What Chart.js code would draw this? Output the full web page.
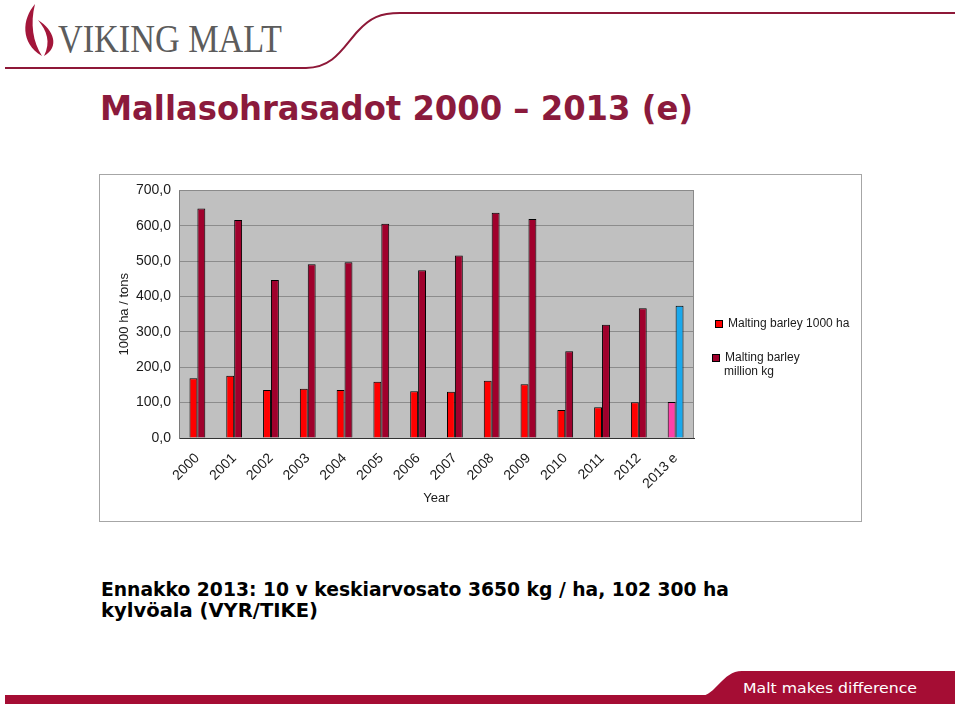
<!DOCTYPE html>
<html>
<head>
<meta charset="utf-8">
<script src="https://cdn.jsdelivr.net/npm/chart.js@4/dist/chart.umd.min.js"></script>
<style>
  html, body { margin: 0; padding: 0; background: #fff; }
  body { width: 960px; height: 706px; position: relative; overflow: hidden; }
  #deco { position: absolute; left: 0; top: 0; }
  #chartBox { position: absolute; left: 99px; top: 174px; width: 763px; height: 348px; }
  #chartFrame { position: absolute; left: 99px; top: 174px; width: 761px; height: 346px;
                border: 1px solid #a6a6a6; pointer-events: none; }
</style>
</head>
<body>
<svg id="deco" width="960" height="706" xmlns="http://www.w3.org/2000/svg">
  <!-- logo -->
  <path d="M35,4 C22,19 20,43 42,56 C33,42 30,24 35,4 Z" fill="#a3163a"/>
  <path d="M38,20 C54,30 60,47 44,56 C51,42 47,31 38,20 Z" fill="#a3163a"/>
  <text x="58" y="52" font-family="Liberation Serif, serif" font-size="41" fill="#5c5c5c"
        textLength="224" lengthAdjust="spacingAndGlyphs">VIKING MALT</text>
  <path d="M5,68 L306,68 C334,68 344,46 358,31 C370,18 380,13 400,13 L955,13"
        fill="none" stroke="#8e1838" stroke-width="2"/>
  <!-- title -->
  <text x="100" y="120" font-family="DejaVu Sans, sans-serif" font-weight="bold" font-size="34"
        fill="#8b1a3c" textLength="593" lengthAdjust="spacingAndGlyphs">Mallasohrasadot 2000 – 2013 (e)</text>
  <!-- caption -->
  <text x="101" y="596" font-family="DejaVu Sans, sans-serif" font-weight="bold" font-size="19"
        fill="#000" textLength="628" lengthAdjust="spacingAndGlyphs">Ennakko 2013: 10 v keskiarvosato 3650 kg / ha, 102 300 ha</text>
  <text x="101" y="617" font-family="DejaVu Sans, sans-serif" font-weight="bold" font-size="19"
        fill="#000" textLength="217" lengthAdjust="spacingAndGlyphs">kylvöala (VYR/TIKE)</text>
  <!-- footer -->
  <rect x="5" y="695" width="950" height="9" fill="#a50d34"/>
  <path d="M700,696 C716,696 722,671 742,671 L955,671 L955,704 L700,704 Z" fill="#a50d34"/>
  <text x="743" y="693" font-family="DejaVu Sans, sans-serif" font-size="14" fill="#fff"
        textLength="174" lengthAdjust="spacingAndGlyphs">Malt makes difference</text>
</svg>

<canvas id="chartBox" width="763" height="348"></canvas>
<div id="chartFrame"></div>

<script>
// --- data ---
const years = ['2000', '2001', '2002', '2003', '2004', '2005', '2006',
               '2007', '2008', '2009', '2010', '2011', '2012', '2013 e'];
// Malting barley area, 1000 ha
const areaHa = [169, 176, 136, 139, 136, 159, 132, 131, 162, 152, 79, 87, 101, 102];
// Malting barley crop, million kg
const cropKg = [649, 616, 447, 491, 497, 606, 474, 516, 637, 619, 245, 320, 367, 374];
const seriesNames = ['Malting barley 1000 ha', ['Malting barley', 'million kg']];

// colours: last year (estimate) is highlighted
const RED = '#ff0000', PINK = '#ff40a8', DARK = '#a0002c', BLUE = '#1aa8ec';
const areaColors = years.map((y, i) => (i === years.length - 1 ? PINK : RED));
const cropColors = years.map((y, i) => (i === years.length - 1 ? BLUE : DARK));

Chart.defaults.font.family = '"Liberation Sans", Arial, sans-serif';
Chart.defaults.color = '#1a1a1a';

// grey plot background + frame at top/right, Excel style
const plotBg = {
  id: 'plotBg',
  beforeDraw(chart) {
    const { ctx, chartArea: a } = chart;
    ctx.save();
    ctx.fillStyle = '#c0c0c0';
    ctx.fillRect(a.left, a.top, a.right - a.left, a.bottom - a.top);
    ctx.restore();
  },
  afterDatasetsDraw(chart) {
    const { ctx, chartArea: a } = chart;
    ctx.save();
    ctx.strokeStyle = '#8a8a8a';
    ctx.lineWidth = 1;
    ctx.beginPath();
    ctx.moveTo(Math.round(a.left) + 0.5, Math.round(a.top) + 0.5);
    ctx.lineTo(Math.round(a.right) - 0.5, Math.round(a.top) + 0.5);
    ctx.lineTo(Math.round(a.right) - 0.5, Math.round(a.bottom));
    ctx.stroke();
    ctx.restore();
  },
};

// legend with wrapped second label, drawn on the right
const sideLegend = {
  id: 'sideLegend',
  afterDraw(chart) {
    const { ctx } = chart;
    const rows = [
      { y: 150, x: 629, color: chart.data.datasets[0].backgroundColor[0], lines: [].concat(seriesNames[0]) },
      { y: 184, x: 626, color: chart.data.datasets[1].backgroundColor[0], lines: [].concat(seriesNames[1]) },
    ];
    ctx.save();
    ctx.font = '12px "Liberation Sans", Arial, sans-serif';
    ctx.textBaseline = 'middle';
    rows.forEach((r) => {
      ctx.fillStyle = r.color;
      ctx.fillRect(r.x - 12, r.y - 3, 6, 6);
      ctx.strokeStyle = '#000';
      ctx.strokeRect(r.x - 12.5, r.y - 3.5, 7, 7);
      ctx.fillStyle = '#1a1a1a';
      r.lines.forEach((t, k) => ctx.fillText(t, r.x - (k ? 1 : 0), r.y + k * 14));
    });
    ctx.restore();
  },
};

new Chart(document.getElementById('chartBox'), {
  type: 'bar',
  data: {
    labels: years,
    datasets: [
      { label: 'Malting barley 1000 ha', data: areaHa, backgroundColor: areaColors,
        borderColor: '#000', borderWidth: 1 },
      { label: 'Malting barley million kg', data: cropKg, backgroundColor: cropColors,
        borderColor: '#000', borderWidth: 1 },
    ],
  },
  options: {
    responsive: false,
    animation: false,
    devicePixelRatio: 1,
    layout: { padding: { left: 18, right: 168, top: 15, bottom: 16 } },
    datasets: { bar: { categoryPercentage: 0.43, barPercentage: 1 } },
    plugins: { legend: { display: false }, tooltip: { enabled: false } },
    scales: {
      x: {
        grid: { display: false },
        border: { color: '#333', width: 1 },
        ticks: { font: { size: 14 }, minRotation: 45, maxRotation: 45, padding: 4 },
        title: { display: true, text: 'Year', font: { size: 13 }, padding: { top: 2, bottom: 0 } },
        afterFit(s) { s.height = 68; },
      },
      y: {
        min: 0, max: 700,
        grid: { color: '#8c8c8c', drawTicks: false },
        border: { color: '#7a7a7a' },
        ticks: { stepSize: 100, font: { size: 14 }, padding: 8,
                 callback: (v) => v.toFixed(1).replace('.', ',') },
        title: { display: true, text: '1000 ha / tons', font: { size: 13 }, padding: 0 },
        afterFit(s) { s.width = 62; },
      },
    },
  },
  plugins: [plotBg, sideLegend],
});
</script>
</body>
</html>
